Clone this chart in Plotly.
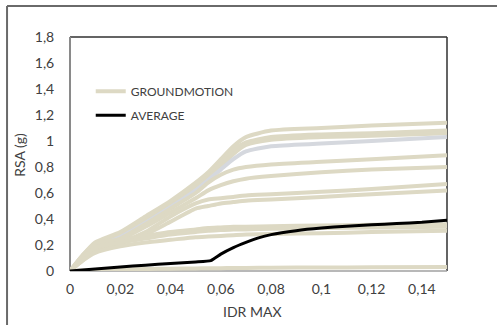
import plotly.graph_objects as go

# ---- data ----
gm_x = [0, 0.005, 0.01, 0.02, 0.03, 0.04, 0.05, 0.055, 0.06, 0.065, 0.07, 0.08, 0.1, 0.12, 0.15]
gm_1 = [0, 0.12, 0.22, 0.30, 0.42, 0.54, 0.68, 0.76, 0.86, 0.96, 1.03, 1.08, 1.10, 1.12, 1.14]
gm_2 = [0, 0.10, 0.20, 0.28, 0.40, 0.52, 0.66, 0.74, 0.83, 0.93, 0.99, 1.03, 1.05, 1.06, 1.08]
gm_3 = [0, 0.11, 0.19, 0.27, 0.39, 0.50, 0.64, 0.72, 0.80, 0.90, 0.97, 1.01, 1.03, 1.04, 1.06]
gm_4 = [0, 0.09, 0.18, 0.26, 0.37, 0.49, 0.62, 0.70, 0.78, 0.86, 0.92, 0.96, 0.98, 1.00, 1.03]
gm_5 = [0, 0.10, 0.18, 0.25, 0.36, 0.48, 0.60, 0.68, 0.74, 0.78, 0.80, 0.82, 0.84, 0.86, 0.89]
gm_6 = [0, 0.09, 0.17, 0.24, 0.34, 0.45, 0.56, 0.62, 0.66, 0.69, 0.71, 0.73, 0.76, 0.78, 0.80]
gm_7 = [0, 0.10, 0.17, 0.22, 0.30, 0.42, 0.52, 0.55, 0.56, 0.57, 0.58, 0.59, 0.61, 0.63, 0.67]
gm_8 = [0, 0.08, 0.15, 0.21, 0.28, 0.38, 0.48, 0.50, 0.52, 0.53, 0.54, 0.55, 0.57, 0.59, 0.62]
gm_9 = [0, 0.12, 0.21, 0.24, 0.27, 0.30, 0.32, 0.33, 0.335, 0.34, 0.34, 0.345, 0.35, 0.355, 0.36]
gm_10 = [0, 0.10, 0.18, 0.22, 0.25, 0.28, 0.30, 0.31, 0.315, 0.32, 0.32, 0.325, 0.33, 0.335, 0.34]
gm_11 = [0, 0.08, 0.14, 0.19, 0.22, 0.24, 0.26, 0.265, 0.27, 0.275, 0.28, 0.285, 0.29, 0.30, 0.31]
gm_12 = [0, 0.004, 0.008, 0.012, 0.015, 0.018, 0.02, 0.021, 0.022, 0.023, 0.024, 0.025, 0.027, 0.028, 0.03]
gm_series = [gm_1, gm_2, gm_3, gm_4, gm_5, gm_6, gm_7, gm_8, gm_9, gm_10, gm_11, gm_12]
gm_colors = ["#DDD9C4"] * 3 + ["#D5D8DE"] + ["#DDD9C4"] * 8

avg_x = [0, 0.01, 0.02, 0.03, 0.04, 0.05, 0.056, 0.06, 0.065, 0.07, 0.075, 0.08, 0.09, 0.1,
         0.11, 0.12, 0.13, 0.14, 0.15]
avg_y = [0, 0.015, 0.03, 0.045, 0.058, 0.07, 0.08, 0.13, 0.18, 0.22, 0.255, 0.28, 0.31, 0.33,
         0.345, 0.355, 0.365, 0.375, 0.39]

x_ticks = [0, 0.02, 0.04, 0.06, 0.08, 0.1, 0.12, 0.14]
y_ticks = [0, 0.2, 0.4, 0.6, 0.8, 1, 1.2, 1.4, 1.6, 1.8]

FONT = "Lato"
TXT = "#404040"

fig = go.Figure()
for i, (ys, col) in enumerate(zip(gm_series, gm_colors)):
    fig.add_trace(go.Scatter(
        x=gm_x, y=ys, mode="lines", name="GROUNDMOTION",
        line=dict(color=col, width=4, shape="spline", smoothing=0.6),
        showlegend=(i == 0), legendgroup="gm",
    ))
fig.add_trace(go.Scatter(
    x=avg_x, y=avg_y, mode="lines", name="AVERAGE",
    line=dict(color="black", width=3, shape="spline", smoothing=0.4),
    legendgroup="avg",
))

fig.update_layout(
    width=497, height=325,
    margin=dict(l=70, r=50, t=37, b=54, autoexpand=False),
    paper_bgcolor="white", plot_bgcolor="white",
    separators=",.",
    font=dict(family=FONT, size=14, color=TXT),
    showlegend=True,
    legend=dict(x=0.055, y=0.83, xanchor="left", yanchor="top",
                bgcolor="rgba(0,0,0,0)", font=dict(size=12, color=TXT),
                tracegroupgap=5, itemwidth=30),
    xaxis=dict(range=[0, 0.15], tickvals=x_ticks, showgrid=False, zeroline=False,
               showline=False, ticks="outside", ticklen=5, tickcolor="rgba(0,0,0,0)",
               automargin=False),
    yaxis=dict(range=[0, 1.8], tickvals=y_ticks, showgrid=False, zeroline=False,
               showline=False, ticks="outside", ticklen=12, tickcolor="rgba(0,0,0,0)",
               automargin=False),
    annotations=[
        dict(text="IDR MAX", xref="paper", yref="paper", x=0.485, y=-0.175,
             xanchor="center", yanchor="middle", showarrow=False,
             font=dict(size=14, color=TXT)),
        dict(text="RSA (g)", xref="paper", yref="paper", x=-0.133, y=0.496,
             xanchor="center", yanchor="middle", showarrow=False, textangle=-90,
             font=dict(size=14, color=TXT)),
    ],
    shapes=[
        # plot frame
        dict(type="line", xref="paper", yref="paper", x0=0, x1=1, y0=1, y1=1,
             line=dict(color="#303030", width=1.5), layer="below"),
        dict(type="line", xref="paper", yref="paper", x0=1, x1=1, y0=0, y1=1,
             line=dict(color="#303030", width=1.5), layer="below"),
        dict(type="line", xref="paper", yref="paper", x0=0, x1=0, y0=0, y1=1,
             line=dict(color="#8a8a8a", width=2), layer="below"),
        dict(type="line", xref="paper", yref="paper", x0=0, x1=1, y0=0, y1=0,
             line=dict(color="#a0a0a0", width=1.5), layer="below"),
        # outer frame (top and left)
        dict(type="line", xref="paper", yref="paper", x0=-0.167, x1=1.2,
             y0=1.132, y1=1.132, line=dict(color="#6a6a6a", width=2)),
        dict(type="line", xref="paper", yref="paper", x0=-0.167, x1=-0.167,
             y0=-0.3, y1=1.132, line=dict(color="#6a6a6a", width=2)),
    ],
)

fig.write_html("out.html", config={"displayModeBar": False},
               post_script="document.body.style.margin='0';")
